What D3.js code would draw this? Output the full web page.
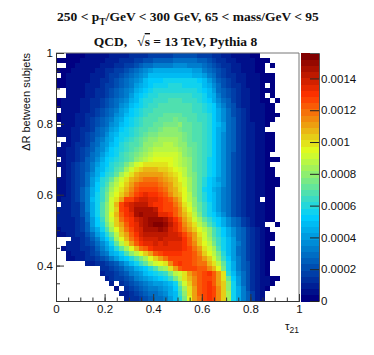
<!DOCTYPE html>
<html>
<head>
<meta charset="utf-8">
<style>
  html, body { margin: 0; padding: 0; background: #fff; }
  svg { display: block; }
  text { font-family: "Liberation Sans", sans-serif; fill: #111; }
  .title { font-family: "Liberation Serif", serif; font-weight: bold; font-size: 13.5px; }
</style>
<script src="https://cdn.jsdelivr.net/npm/d3@7"></script>
</head>
<body>
<svg id="chart" width="374" height="355"></svg>
<script>
// cell contents in units of 1e-5, top row (dR = 1) first, column 0 at tau21 = 0
// 0 or a missing value means an empty bin, which is left white
const cellRows = [
  [0,0,2,2,3,3,4,4,5,6,7,8,9,10,11,12,13,14,15,16,16,17,18,19,20,21,21,21,20,19,18,16,14,12,10,9,7,6,5,4,3,2],
  [2,3,3,3,3,4,4,5,6,7,8,9,10,12,13,15,17,19,21,23,24,25,26,27,28,29,29,29,28,27,24,21,18,15,13,11,9,7,6,5,4,3,2,1],
  [0,0,3,3,4,4,5,6,7,8,9,11,13,15,17,19,22,25,28,31,33,34,35,35,36,36,36,35,34,32,29,26,22,19,15,12,10,8,6,5,4,3,2,0,1],
  [3,3,3,4,4,5,6,7,8,10,12,14,16,19,22,25,28,32,36,41,43,43,44,45,45,45,44,43,41,39,35,30,26,21,17,14,11,9,7,6,4,3,2],
  [0,3,4,4,5,5,6,8,9,11,13,16,19,22,25,29,33,37,42,47,49,50,50,50,50,50,49,48,46,43,39,33,28,23,19,15,12,10,8,6,5,4,3,2,1],
  [3,3,4,4,5,6,7,9,10,12,15,18,21,25,29,33,37,42,47,51,53,54,55,56,56,56,56,56,55,53,49,41,33,27,22,17,14,11,8,7,5,4,3,2,1],
  [3,3,4,5,5,6,8,9,11,13,16,19,23,27,31,35,40,45,50,54,56,58,58,59,59,59,58,58,57,55,50,44,36,29,23,18,15,12,9,7,5,4,3,0,1],
  [0,0,4,5,6,7,8,10,12,14,17,21,25,29,33,38,43,48,53,57,59,60,61,62,62,62,61,60,59,57,53,47,39,31,25,20,16,12,10,8,6,4,3,2,1],
  [0,0,4,5,6,7,9,11,13,15,19,23,27,31,35,41,47,53,57,60,62,63,64,65,65,65,64,63,62,60,55,50,43,34,27,22,17,13,10,8,6,5,3,0,1],
  [3,4,4,5,6,8,10,12,14,17,21,25,29,33,38,44,50,55,59,62,64,65,66,67,67,67,66,65,64,62,58,53,46,37,29,24,18,14,11,8,6,5,3,2,0,1],
  [3,4,5,6,7,8,10,13,15,18,22,27,31,36,42,48,53,57,61,64,66,67,68,69,69,68,68,67,65,63,60,56,52,41,33,26,20,15,11,9,7,5,4,2,1],
  [0,4,5,6,7,9,11,14,17,20,24,29,33,39,45,51,56,60,63,66,67,68,69,70,70,69,69,68,66,64,62,58,53,44,36,28,22,16,12,9,7,5,4,2,1],
  [3,4,5,6,8,10,12,15,18,22,26,30,36,42,48,54,58,62,65,67,69,70,71,71,73,71,70,69,67,65,63,59,54,46,38,30,23,17,13,10,7,5,4,2,2,1],
  [3,4,5,7,8,10,13,16,20,24,28,33,39,45,52,56,60,64,67,68,70,72,74,73,77,73,71,70,68,66,63,59,54,46,38,31,24,18,13,10,7,6,4,2,1],
  [0,4,6,7,9,11,14,18,22,27,31,36,42,49,54,58,62,66,68,70,72,74,75,76,75,78,72,71,69,67,64,60,54,47,39,31,24,18,13,10,8,6,4,2],
  [4,5,6,8,10,12,15,19,24,29,34,40,46,52,56,60,64,67,70,72,74,76,78,78,78,76,74,72,70,67,64,60,54,46,39,31,24,18,14,10,8,6,4],
  [4,5,7,8,11,13,16,21,26,31,37,43,49,55,58,62,66,69,72,75,76,78,80,80,80,78,75,73,70,67,64,60,54,46,38,30,24,18,14,10,8,6,4,3,1],
  [0,0,7,9,11,14,18,23,28,34,40,46,52,57,61,65,68,72,75,78,80,82,84,84,82,80,76,73,70,67,64,60,53,45,38,30,24,18,13,10,8,6,4,3,1],
  [0,5,7,10,12,15,19,25,30,36,42,48,54,59,63,67,70,74,78,81,83,85,86,86,84,81,78,74,71,68,64,59,53,45,38,30,24,18,13,10,8,6,4,3,1],
  [4,6,8,10,13,16,21,26,32,38,45,51,56,61,65,69,73,77,81,85,86,88,89,89,87,84,80,76,72,68,64,59,53,45,38,30,24,18,13,10,8,6,4,3,1],
  [5,6,8,11,14,17,22,28,34,41,48,53,58,63,67,71,75,79,84,88,90,92,93,93,90,86,81,77,73,68,64,59,53,45,38,30,23,17,13,10,8,6,4,2],
  [0,6,9,11,15,19,24,30,37,44,51,56,60,65,70,74,78,83,89,92,94,96,97,96,93,88,83,78,73,68,63,58,53,45,38,30,23,17,13,10,9,6,4,3,2,1],
  [5,7,9,12,16,20,26,33,41,48,54,59,63,70,76,84,93,97,100,101,101,100,99,97,93,88,84,79,74,68,63,58,53,45,38,30,23,17,13,10,9,6,4,2],
  [0,7,9,12,16,21,27,35,43,50,56,62,68,74,82,92,100,104,106,106,106,105,103,100,96,91,86,80,74,68,63,58,53,45,38,30,23,17,13,10,9,6,4,2,1],
  [0,7,9,12,16,22,28,37,46,52,60,66,74,82,90,100,106,110,112,113,112,110,107,104,100,95,88,81,75,69,63,58,53,45,38,30,23,17,13,10,9,6,4,2,1],
  [6,7,9,12,16,22,29,39,50,60,66,74,82,92,100,106,112,116,119,118,117,115,112,108,104,97,90,83,76,68,60,54,48,42,36,30,23,17,13,10,9,6,4,3,2,1],
  [6,7,9,12,16,23,31,42,52,62,70,78,88,97,105,111,117,121,123,123,122,119,115,110,105,99,92,84,77,69,60,54,49,43,36,30,23,17,13,10,9,6,4,3,2,1],
  [6,7,9,12,17,24,33,45,54,64,73,82,92,101,109,115,121,125,128,127,126,123,119,110,106,100,94,85,76,68,58,51,46,40,35,29,23,17,13,10,9,6,4,2,1],
  [7,7,9,12,17,25,35,46,56,66,75,86,96,105,113,119,125,130,133,131,130,127,122,116,109,102,95,86,77,68,59,52,47,41,35,28,22,17,13,10,9,6,4,2,1],
  [7,8,9,12,17,25,35,47,57,66,76,90,100,112,125,128,135,138,140,136,134,131,127,122,115,106,97,87,78,69,60,53,48,41,35,28,23,17,13,10,9,6,0,3,1],
  [0,8,9,12,15,21,32,46,57,67,78,92,108,125,135,140,142,142,143,135,132,130,128,125,118,110,100,90,80,71,63,55,49,42,35,28,22,17,13,10,9,6,4,2,1],
  [8,8,10,12,15,21,32,46,57,68,80,93,105,125,132,138,146,148,148,146,142,130,128,127,122,114,105,96,85,73,63,55,49,42,35,28,22,17,13,10,9,6,4,2,1],
  [8,8,10,12,15,20,31,45,56,67,80,94,106,122,130,136,145,150,148,148,146,133,135,130,124,116,107,98,87,75,66,58,51,44,37,29,23,18,13,10,9,6,4,2,1],
  [8,8,10,11,14,19,29,42,54,65,78,92,105,118,126,132,138,144,148,150,149,152,146,138,130,122,112,103,92,83,73,64,58,51,44,36,29,24,18,14,10,7,5,2,1],
  [8,8,9,11,13,18,27,39,52,62,75,89,102,112,122,130,136,142,148,152,153,155,150,144,134,125,116,106,99,88,78,69,60,53,46,38,31,25,19,14,10,7,4,0,0,1],
  [7,8,8,10,13,17,25,36,46,55,68,82,97,108,118,126,133,140,145,148,148,150,146,140,134,128,120,112,104,97,88,78,68,60,53,45,37,30,24,18,13,9,5,3],
  [7,7,8,10,12,15,22,31,41,50,60,74,88,102,113,124,132,138,141,143,142,144,141,140,137,135,128,120,110,100,90,80,70,61,54,46,38,31,25,19,14,10,6,3,1],
  [0,0,0,9,11,14,19,26,35,44,53,65,82,96,108,119,128,133,137,140,140,141,140,139,138,138,130,122,112,102,92,83,73,63,55,47,39,31,25,19,14,10,6,3,1],
  [0,0,8,9,10,13,17,22,29,37,46,57,72,87,100,111,121,129,134,136,137,136,137,135,134,134,131,124,115,105,95,86,76,66,57,50,41,32,25,19,14,9,6,3],
  [0,7,8,9,10,12,15,19,26,33,42,50,60,72,85,97,107,117,124,131,134,135,135,134,134,133,131,126,120,110,100,90,82,70,58,50,40,30,24,19,14,9,6,3,1],
  [0,0,7,8,9,11,13,16,21,28,35,43,50,58,68,78,88,97,105,113,122,128,130,130,130,129,128,125,122,114,105,97,88,76,60,50,40,31,25,19,14,9,6,3,1],
  [0,0,6,7,8,10,12,14,18,22,27,33,41,48,53,60,67,75,85,95,105,112,118,125,128,128,128,125,123,118,110,102,92,78,63,51,41,32,25,19,14,9,6,3,1],
  [0,0,0,0,0,0,9,11,13,15,18,22,27,33,41,48,55,63,72,82,90,96,100,115,125,129,128,126,122,120,118,108,100,88,72,55,45,35,27,20,14,9,6,3],
  [0,0,0,0,0,0,0,0,0,13,15,18,22,27,32,38,44,50,54,62,70,78,85,98,112,122,128,128,125,124,122,115,106,94,76,58,46,35,27,20,14,9,6,3],
  [0,0,0,0,0,0,0,0,0,11,13,15,18,22,27,32,37,42,47,52,57,61,65,75,88,93,98,110,118,122,128,130,122,112,98,62,50,38,28,20,14,9,6,3],
  [0,0,0,0,0,0,0,0,0,0,11,13,16,19,23,27,32,37,42,46,50,54,58,64,76,88,98,108,116,122,128,128,122,112,98,72,52,40,29,21,14,10,6,4,2,1],
  [0,0,0,0,0,0,0,0,0,0,0,8,0,14,18,21,25,29,33,37,40,42,45,50,58,75,90,104,115,122,127,129,124,113,102,78,56,41,30,21,14,10,6,4,1],
  [0,0,0,0,0,0,0,0,0,0,0,0,7,0,14,17,20,24,28,32,35,38,41,46,52,70,85,100,113,122,127,130,125,114,102,80,56,43,32,22,14,9,6,3],
  [0,0,0,0,0,0,0,0,0,0,0,0,0,8,11,14,17,20,24,28,31,33,36,44,50,65,80,98,112,121,128,131,126,115,102,82,55,45,34,25,16,10,5],
  [0,0,0,0,0,0,0,0,0,0,0,0,0,0,9,12,15,18,22,26,29,31,34,40,48,60,76,95,110,120,127,130,126,115,103,84,58,46,34,25,16,9,5]
];
const cellUnit = 1e-5;
const xBinWidth = 0.02;
const yBinWidth = 0.014;

const xMajorTicks = [0, 0.2, 0.4, 0.6, 0.8, 1];
const xMinorTicks = d3.range(0, 1.01, 0.05);
const yMajorTicks = [0.4, 0.6, 0.8, 1];
const yMinorTicks = d3.range(0.3, 1.01, 0.05);
const zTicks = [0, 0.0002, 0.0004, 0.0006, 0.0008, 0.001, 0.0012, 0.0014];

// gradient stops of the palette
const paletteStops = [0, 0.34, 0.61, 0.84, 1];
const paletteColors = ["rgb(0,0,130)", "rgb(0,207,255)", "rgb(222,255,31)", "rgb(255,51,0)", "rgb(130,0,0)"];
const contourCount = 40;
const zMax = 0.00156;

const frame = {left: 56, right: 299, top: 53, bottom: 301};
const bar = {left: 301, right: 319};

const svg = d3.select("#chart");

const xScale = d3.scaleLinear().domain([0, 1]).range([frame.left, frame.right]);
const yScale = d3.scaleLinear().domain([0.3, 1]).range([frame.bottom, frame.top]);
const zScale = d3.scaleLinear().domain([0, zMax]).range([frame.bottom, frame.top]);

const gradient = d3.scaleLinear().domain(paletteStops).range(paletteColors);
const bandColors = d3.range(contourCount).map(k => gradient(k / (contourCount - 1)));
const colorScale = d3.scaleQuantize().domain([0, zMax]).range(bandColors);

// flatten the rows, dropping empty bins
const cells = [];
cellRows.forEach((row, j) => {
  row.forEach((v, i) => {
    if (v > 0) cells.push({i: i, j: j, value: v * cellUnit});
  });
});

svg.append("g").attr("class", "cells")
  .attr("shape-rendering", "crispEdges")
  .selectAll("rect")
  .data(cells)
  .enter().append("rect")
    .attr("x", d => xScale(d.i * xBinWidth))
    .attr("y", d => yScale(1 - d.j * yBinWidth))
    .attr("width", xScale(xBinWidth) - xScale(0))
    .attr("height", yScale(0.3) - yScale(0.3 + yBinWidth))
    .attr("fill", d => colorScale(d.value));

// top and right edges of the frame are lighter than the axes
svg.append("path")
  .attr("d", `M${frame.left},${frame.top}H${frame.right}V${frame.bottom}`)
  .attr("fill", "none")
  .attr("stroke", "#777");

function styleAxis(g) {
  g.selectAll(".domain").attr("stroke", "#333");
  g.selectAll(".tick line").attr("stroke", "#333");
  g.selectAll("text").attr("font-size", 11.5).attr("font-family", "Liberation Sans").attr("fill", "#111");
}

// minor ticks
svg.append("g")
  .attr("transform", `translate(0,${frame.bottom})`)
  .call(d3.axisBottom(xScale).tickValues(xMinorTicks).tickSize(-3.5).tickFormat(""))
  .call(styleAxis);
svg.append("g")
  .attr("transform", `translate(${frame.left},0)`)
  .call(d3.axisLeft(yScale).tickValues(yMinorTicks).tickSize(-4).tickFormat(""))
  .call(styleAxis);

// major ticks with labels
svg.append("g")
  .attr("transform", `translate(0,${frame.bottom})`)
  .call(d3.axisBottom(xScale).tickValues(xMajorTicks).tickSize(-7).tickPadding(4).tickFormat(d3.format("~g")))
  .call(styleAxis);
svg.append("g")
  .attr("transform", `translate(${frame.left},0)`)
  .call(d3.axisLeft(yScale).tickValues(yMajorTicks).tickSize(-8).tickPadding(3).tickFormat(d3.format("~g")))
  .call(styleAxis);

// colour bar
const bandHeight = (frame.bottom - frame.top) / contourCount;
svg.append("g").attr("class", "bar")
  .attr("shape-rendering", "crispEdges")
  .selectAll("rect")
  .data(bandColors)
  .enter().append("rect")
    .attr("x", bar.left)
    .attr("y", (d, k) => zScale(zMax * (k + 1) / contourCount))
    .attr("width", bar.right - bar.left)
    .attr("height", bandHeight + 0.5)
    .attr("fill", d => d);

svg.append("g")
  .attr("transform", `translate(${bar.right},0)`)
  .call(d3.axisRight(zScale).tickValues(zTicks).tickSize(-9).tickPadding(2).tickFormat(d3.format("~g")))
  .call(g => g.select(".domain").attr("stroke", "#555"))
  .call(g => g.selectAll(".tick line").attr("stroke", "#222"))
  .call(g => g.selectAll("text").attr("font-size", 11.5).attr("font-family", "Liberation Sans").attr("fill", "#111"));

// axis titles
svg.append("text")
  .attr("transform", `translate(30,${frame.top}) rotate(-90)`)
  .attr("text-anchor", "end")
  .attr("font-size", 11)
  .text("\u0394R between subjets");

const xTitle = svg.append("text")
  .attr("x", frame.right)
  .attr("y", 330)
  .attr("text-anchor", "end")
  .attr("font-size", 11.5);
xTitle.append("tspan").text("\u03c4");
xTitle.append("tspan").attr("dy", 3).attr("font-size", 8.5).text("21");

// titles
const title1 = svg.append("text")
  .attr("class", "title")
  .attr("x", 188)
  .attr("y", 21)
  .attr("text-anchor", "middle");
title1.append("tspan").text("250 < p");
title1.append("tspan").attr("dy", 4).attr("font-size", 9.5).text("T");
title1.append("tspan").attr("dy", -4).text("/GeV < 300 GeV, 65 < mass/GeV < 95");

const title2 = svg.append("text")
  .attr("class", "title")
  .attr("x", 175.5)
  .attr("y", 46)
  .attr("text-anchor", "middle");
title2.append("tspan").text("QCD,\u00a0\u00a0\u00a0\u221a");
title2.append("tspan").attr("text-decoration", "overline").text("s");
title2.append("tspan").text(" = 13 TeV, Pythia 8");
</script>
</body>
</html>
